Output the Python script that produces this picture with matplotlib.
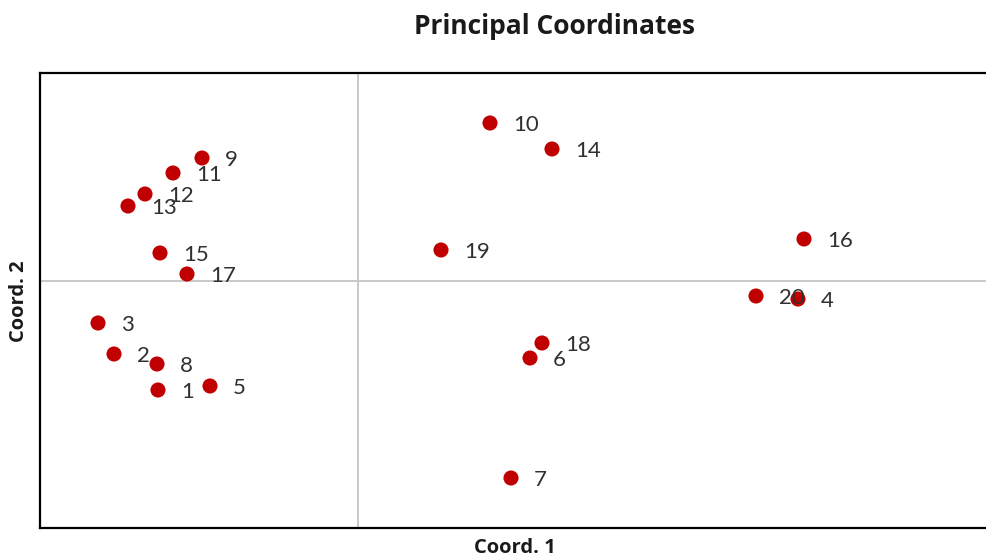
import matplotlib
matplotlib.use("Agg")
import matplotlib.pyplot as plt

# Principal coordinate scores for the 20 samples
labels = ["1", "2", "3", "4", "5", "6", "7", "8", "9", "10",
          "11", "12", "13", "14", "15", "16", "17", "18", "19", "20"]
coord1 = [-0.200, -0.244, -0.260, 0.440, -0.148, 0.172, 0.153, -0.201, -0.156, 0.132,
          -0.185, -0.213, -0.230, 0.194, -0.198, 0.446, -0.171, 0.184, 0.083, 0.398]
coord2 = [-0.109, -0.073, -0.042, -0.018, -0.105, -0.077, -0.197, -0.083, 0.123, 0.158,
          0.108, 0.087, 0.075, 0.132, 0.028, 0.042, 0.007, -0.062, 0.031, -0.015]

plt.rcParams["font.family"] = ["Lato", "DejaVu Sans"]

fig = plt.figure(figsize=(9.87, 5.60), dpi=100)
W, H = 987, 560
left, right, top, bottom = 40, 990, 73, 528
ax = fig.add_axes([left / W, 1 - bottom / H, (right - left) / W, (bottom - top) / H])

ax.set_xlim(-0.318, 0.632)
ax.set_ylim(-0.247, 0.208)

ax.axvline(0, color="#c9c9c9", lw=1.4, zorder=1)
ax.axhline(0, color="#c9c9c9", lw=1.4, zorder=1)

ax.scatter(coord1, coord2, s=118, color="#c00000", edgecolors="none", zorder=3)
for lab, x, y in zip(labels, coord1, coord2):
    ax.annotate(lab, (x, y), xytext=(16.5, -1.5), textcoords="offset points",
                ha="left", va="center", fontsize=16, color="#303030", zorder=4)

for side in ["left", "bottom", "top"]:
    ax.spines[side].set_linewidth(1.6)
    ax.spines[side].set_color("black")
ax.spines["right"].set_visible(False)
ax.set_xticks([])
ax.set_yticks([])

bold = ["Open Sans", "DejaVu Sans"]
fig.text(555 / W, 1 - 27 / H, "Principal Coordinates", ha="center", va="center",
         fontsize=19, fontweight="bold", family=bold, color="#1a1a1a")
fig.text(515 / W, 1 - 548 / H, "Coord. 1", ha="center", va="center",
         fontsize=14.5, fontweight="bold", family=bold, color="#1a1a1a")
fig.text(19 / W, 1 - 301 / H, "Coord. 2", ha="center", va="center", rotation=90,
         fontsize=14.5, fontweight="bold", family=bold, color="#1a1a1a")

fig.savefig("out.png", dpi=100, facecolor="white")
